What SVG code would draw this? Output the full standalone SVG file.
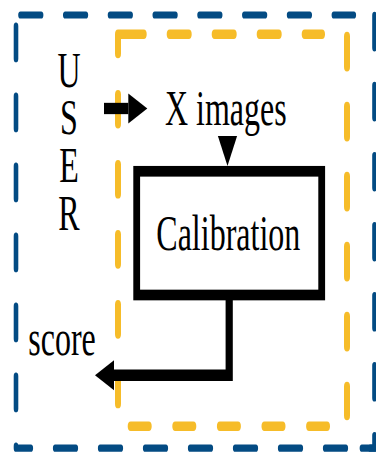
<svg xmlns="http://www.w3.org/2000/svg" width="376" height="457" viewBox="0 0 376 457">
<style>
.blue{fill:none;stroke:#034b83;stroke-width:4.6;stroke-linecap:round;stroke-linejoin:round}
.yel{fill:none;stroke:#f6bc29;stroke-width:6;stroke-linecap:round;stroke-linejoin:round}
.txt{font-family:"Liberation Serif","Times New Roman",serif;font-size:32px;fill:#000}
.conn{fill:none;stroke:#000;stroke-width:7.2;stroke-linejoin:miter}
</style>
<defs>
<marker id="ah" markerUnits="userSpaceOnUse" markerWidth="19" markerHeight="19.2" viewBox="0 0 19 19.2" refX="0" refY="9.6" orient="auto" overflow="visible">
<path d="M0,0 L19,9.6 L0,19.2 Z" fill="#000"/>
</marker>
</defs>
<rect width="376" height="457" fill="#fff"/>
<g transform="scale(1,1.57)">
<g id="outer-frame">
<path class="blue" d="M20.5,9.55 H353.8" stroke-dasharray="20.6 24.17"/>
<path class="blue" d="M16,16.7 V285.5 H30.8" stroke-dasharray="20.7 23.88"/>
<path class="blue" d="M55.2,285.5 H376" stroke-dasharray="20.6 24.4"/>
<path class="blue" d="M374.5,9.84 V285.5 H360" stroke-dasharray="20.6 24"/>
</g>
<g id="inner-frame">
<path class="yel" d="M118,34.1 V21.85 H143.7"/>
<path class="yel" d="M169.7,21.85 H322" stroke-dasharray="19 26"/>
<path class="yel" d="M118,60.3 V257.1" stroke-dasharray="18.6 26"/>
<path class="yel" d="M347,23.2 V264.7" stroke-dasharray="19.3 25.3"/>
<path class="yel" d="M130.7,271.5 H327" stroke-dasharray="18 26.6"/>
</g>
<g id="user">
<text class="txt" text-anchor="middle"><tspan x="69" y="55.2">U</tspan><tspan x="69" y="85.4">S</tspan><tspan x="69" y="115.9">E</tspan><tspan x="69" y="146.5">R</tspan></text>
</g>
<g id="x-images">
<text class="txt" x="165" y="79.6">X images</text>
</g>
<g id="calibration">
<rect x="136.7" y="109.1" width="185" height="78.8" fill="#fff" stroke="#000" stroke-width="6.8"/>
<text class="txt" x="228.3" y="159.2" text-anchor="middle">Calibration</text>
</g>
<g id="score">
<text class="txt" x="28.3" y="226.1">score</text>
</g>
<g id="connectors">
<path class="conn" d="M104,69.1 H128.3" marker-end="url(#ah)"/>
<path d="M227.5,80 V86.7" fill="none" stroke="none" marker-end="url(#ah)"/>
<path class="conn" d="M229.2,191.1 V239 H114" marker-end="url(#ah)"/>
</g>
</g>
</svg>
